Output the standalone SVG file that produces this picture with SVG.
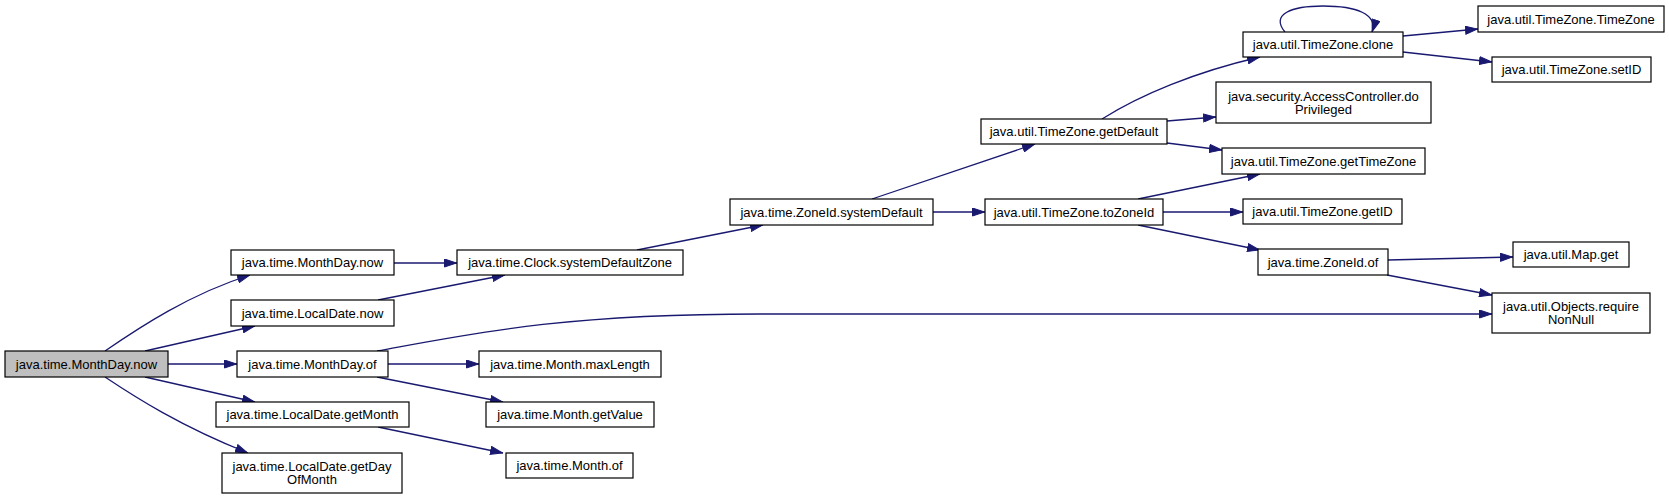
<svg xmlns="http://www.w3.org/2000/svg" width="1669" height="499" viewBox="0 0 1669 499">
<style>
.n rect{fill:#fff;stroke:#000;stroke-width:1.2}
.n.root rect{fill:#bfbfbf}
.n text{font-family:"Liberation Sans",Arial,sans-serif;font-size:13px;fill:#000;text-anchor:middle}
.e path{fill:none;stroke:#191970;stroke-width:1.3;marker-end:url(#a)}
</style>
<defs>
<marker id="a" viewBox="0 0 13 9" refX="13" refY="4.5" markerWidth="13" markerHeight="9" orient="auto" markerUnits="userSpaceOnUse"><path d="M0.5,0.5 L12.5,4.5 L0.5,8.5z" fill="#191970" stroke="#191970" stroke-width="1"/></marker>
</defs>
<rect width="1669" height="499" fill="#fff"/>
<g class="e" id="edges">
<path d="M105,351 C140,327 190,294 250,275"/>
<path d="M145,351 L255,326"/>
<path d="M168,364 L237,364"/>
<path d="M145,377 L255,402"/>
<path d="M105,377 C135,397 180,426 248,453"/>
<path d="M394,263 L457,263"/>
<path d="M378,300 L505,275"/>
<path d="M637,250 L763,225"/>
<path d="M872,199 L1035,144"/>
<path d="M933,212 L985,212"/>
<path d="M1102,119 C1140,95 1195,72 1260,57"/>
<path d="M1167,121 L1216,117"/>
<path d="M1167,143 L1222,150"/>
<path d="M1138,199 L1260,174"/>
<path d="M1163,212 L1243,212"/>
<path d="M1138,225 L1260,250"/>
<path d="M1388,260 L1513,257"/>
<path d="M1387,275 L1492,295"/>
<path d="M377,351 C470,334 560,314 760,314 L1492,314"/>
<path d="M388,364 L479,364"/>
<path d="M377,377 L503,402"/>
<path d="M378,427 L503,453"/>
<path d="M1285,32 C1270,14 1292,6 1323,6 C1356,6 1378,14 1372,32"/>
<path d="M1403,36 L1478,29"/>
<path d="M1403,52 L1492,62"/>
</g>
<g class="n root" id="n_root"><rect x="5" y="351" width="163" height="26"/><text x="86.5" y="368.5">java.time.MonthDay.now</text></g>
<g class="n" id="n_mdnow"><rect x="231" y="250" width="163" height="25"/><text x="312.5" y="267">java.time.MonthDay.now</text></g>
<g class="n" id="n_ldnow"><rect x="231" y="300" width="163" height="26"/><text x="312.5" y="317.5">java.time.LocalDate.now</text></g>
<g class="n" id="n_mdof"><rect x="237" y="351" width="151" height="26"/><text x="312.5" y="368.5">java.time.MonthDay.of</text></g>
<g class="n" id="n_ldgetmonth"><rect x="216" y="402" width="193" height="25"/><text x="312.5" y="419">java.time.LocalDate.getMonth</text></g>
<g class="n" id="n_ldgetday"><rect x="222" y="453" width="180" height="40"/><text x="312" y="470.5">java.time.LocalDate.getDay</text><text x="312" y="484">OfMonth</text></g>
<g class="n" id="n_clock"><rect x="457" y="250" width="226" height="25"/><text x="570" y="267">java.time.Clock.systemDefaultZone</text></g>
<g class="n" id="n_maxlen"><rect x="479" y="351" width="182" height="26"/><text x="570" y="368.5">java.time.Month.maxLength</text></g>
<g class="n" id="n_getvalue"><rect x="486" y="402" width="168" height="25"/><text x="570" y="419">java.time.Month.getValue</text></g>
<g class="n" id="n_monthof"><rect x="506" y="453" width="127" height="25"/><text x="569.5" y="470">java.time.Month.of</text></g>
<g class="n" id="n_sysdef"><rect x="730" y="199" width="203" height="26"/><text x="831.5" y="216.5">java.time.ZoneId.systemDefault</text></g>
<g class="n" id="n_getdefault"><rect x="981" y="119" width="186" height="25"/><text x="1074" y="136">java.util.TimeZone.getDefault</text></g>
<g class="n" id="n_tozoneid"><rect x="985" y="199" width="178" height="26"/><text x="1074" y="216.5">java.util.TimeZone.toZoneId</text></g>
<g class="n" id="n_clone"><rect x="1243" y="32" width="160" height="25"/><text x="1323" y="49">java.util.TimeZone.clone</text></g>
<g class="n" id="n_doprivileged"><rect x="1216" y="82" width="215" height="41"/><text x="1323.5" y="100.5">java.security.AccessController.do</text><text x="1323.5" y="113.5">Privileged</text></g>
<g class="n" id="n_gettimezone"><rect x="1222" y="148" width="203" height="26"/><text x="1323.5" y="165.5">java.util.TimeZone.getTimeZone</text></g>
<g class="n" id="n_getid"><rect x="1243" y="199" width="159" height="25"/><text x="1322.5" y="216">java.util.TimeZone.getID</text></g>
<g class="n" id="n_zoneidof"><rect x="1258" y="249" width="130" height="26"/><text x="1323" y="266.5">java.time.ZoneId.of</text></g>
<g class="n" id="n_tztz"><rect x="1478" y="6" width="186" height="26"/><text x="1571" y="23.5">java.util.TimeZone.TimeZone</text></g>
<g class="n" id="n_setid"><rect x="1492" y="57" width="159" height="25"/><text x="1571.5" y="74">java.util.TimeZone.setID</text></g>
<g class="n" id="n_mapget"><rect x="1513" y="242" width="116" height="25"/><text x="1571" y="259">java.util.Map.get</text></g>
<g class="n" id="n_reqnonnull"><rect x="1492" y="293" width="158" height="40"/><text x="1571" y="310.5">java.util.Objects.require</text><text x="1571" y="324">NonNull</text></g>
</svg>
